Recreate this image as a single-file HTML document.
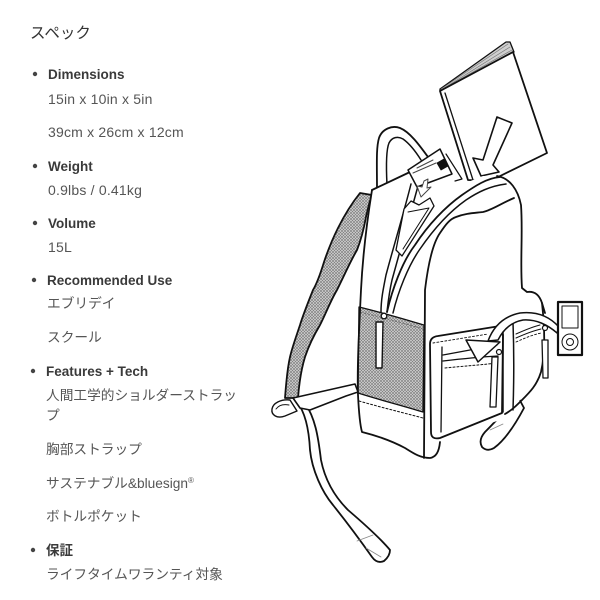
<!DOCTYPE html>
<html><head><meta charset="utf-8">
<style>
html,body{margin:0;padding:0;background:#fff;}
svg{display:block;}
.t{font-family:"Liberation Sans","Noto Sans CJK JP",sans-serif;}
</style></head><body>
<svg width="600" height="600" viewBox="0 0 600 600" xmlns="http://www.w3.org/2000/svg">
<defs>
<pattern id="h" width="3" height="3" patternUnits="userSpaceOnUse">
<rect width="3" height="3" fill="#dadada"/>
<path d="M0,0L3,3M3,0L0,3" stroke="#808080" stroke-width="0.7"/>
</pattern>
</defs>

<g class="t">
<text x="30" y="38" font-size="15.5" fill="#333">スペック</text>

<circle cx="35" cy="74" r="2.2" fill="#444"/>
<text x="48" y="79" font-size="13.5" font-weight="bold" fill="#3a3a3a">Dimensions</text>
<text x="48" y="104" font-size="14" fill="#555" letter-spacing="0.2">15in x 10in x 5in</text>
<text x="48" y="137" font-size="14" fill="#555" letter-spacing="0.2">39cm x 26cm x 12cm</text>

<circle cx="35" cy="166" r="2.2" fill="#444"/>
<text x="48" y="171" font-size="13.5" font-weight="bold" fill="#3a3a3a">Weight</text>
<text x="48" y="195" font-size="14" fill="#555" letter-spacing="0.2">0.9lbs / 0.41kg</text>

<circle cx="35" cy="223" r="2.2" fill="#444"/>
<text x="48" y="228" font-size="13.5" font-weight="bold" fill="#3a3a3a">Volume</text>
<text x="48" y="252" font-size="14" fill="#555" letter-spacing="0.2">15L</text>

<circle cx="34" cy="280" r="2.2" fill="#444"/>
<text x="47" y="285" font-size="13.5" font-weight="bold" fill="#3a3a3a">Recommended Use</text>
<text x="47" y="308" font-size="13.7" fill="#555">エブリデイ</text>
<text x="47" y="342" font-size="13.7" fill="#555">スクール</text>

<circle cx="33" cy="371" r="2.2" fill="#444"/>
<text x="46" y="376" font-size="13.5" font-weight="bold" fill="#3a3a3a">Features + Tech</text>
<text x="46" y="400" font-size="13.7" fill="#555">人間工学的ショルダーストラッ</text>
<text x="46" y="420" font-size="13.7" fill="#555">プ</text>
<text x="46" y="454" font-size="13.7" fill="#555">胸部ストラップ</text>
<text x="46" y="488" font-size="13.7" fill="#555">サステナブル&amp;bluesign<tspan font-size="8" dy="-5">®</tspan></text>
<text x="46" y="521" font-size="13.7" fill="#555">ボトルポケット</text>

<circle cx="33" cy="550" r="2.2" fill="#444"/>
<text x="46" y="555" font-size="13.5" font-weight="bold" fill="#3a3a3a">保証</text>
<text x="46" y="579" font-size="13.7" fill="#555">ライフタイムワランティ対象</text>
</g>

<g fill="none" stroke="#111" stroke-width="1.8" stroke-linejoin="round" stroke-linecap="round">

<!-- Book -->
<path d="M440,89 L506,42 L510,42 L514,52 L440,91 Z" fill="#cfcfcf" stroke-width="1.3"/>
<path d="M441,89 L508,44 M441,90 L510,47 M441,90 L512,50" stroke="#777" stroke-width="0.7"/>
<path d="M440,91 L513,52 L547,153 L490,181 L468,180 Z" fill="#fff"/>
<path d="M445,93 L473,180" stroke-width="1.3"/>
<path d="M497,117 L512,123 L493,165 L499,172 L481,176 L473,158 L483,160 Z" fill="#fff" stroke-width="1.6"/>

<!-- Handle -->
<path d="M377,190 C377,165 376,148 379,138 C382,129 392,125 400,128 C410,132 420,146 428,157" />
<path d="M387,185 C386,165 386,150 389,143 C392,137 398,136 403,139 C410,144 416,152 421,160" stroke-width="1.5"/>

<!-- Long hanging strap -->
<path d="M297,402 C305,412 309,430 310,450 C312,470 322,492 333,505 C345,520 360,540 372,557 Q377,564 384,561 Q390,556 390,550 C380,538 362,522 348,510 C335,497 325,480 321,460 C318,435 315,418 305,403 Z" fill="#fff"/>
<path d="M357,541 L373,535 M366,548 L381,557" stroke="#888" stroke-width="0.8"/>

<!-- Buckle loop -->
<path d="M290,400 C281,399 273,403 272,409 C271,415 277,419 285,416 L297,411 Z" fill="#fff" stroke-width="1.4"/>
<path d="M276,409 C279,405 284,404 289,405" stroke-width="1"/>

<!-- Hatched shoulder strap -->
<path d="M360,193 C352,203 345,214 338,228 C332,240 328,250 324,262 C320,275 316,285 313,290 C307,305 303,315 300,325 C295,340 292,348 290,357 C287,370 286,385 285,398 L298,398 C299,385 301,370 305,357 C309,345 314,335 320,325 C326,313 331,300 337,290 C344,276 350,262 357,250 C361,240 364,228 366,217 C368,208 370,200 372,195 Z" fill="url(#h)"/>

<!-- Lower right strap end -->
<path d="M516,393 C507,410 495,422 485,432 Q478,440 482,447 Q487,452 494,448 C505,440 515,425 524,408 Z" fill="#fff"/>
<path d="M490,430 L503,424" stroke="#888" stroke-width="0.8"/>

<!-- Body fill -->
<path d="M372,190 L410,172 L452,174 L468,182 L483,176 L497,176 C510,180 518,192 521,205 C523,230 520,260 522,288 L528,292 C535,292 540,296 542,303 L545,313 C546,340 545,360 540,375 L528,392 L508,412 L500,420 L440,440 L438,458 L425,459 L405,448 L392,440 L362,432 L357,390 L360,307 L363,243 L367,217 Z" fill="#fff" stroke="none"/>

<!-- Mesh -->
<path d="M359,307 C380,312 400,318 424,325 L423,412 C400,405 380,400 358,393 Z" fill="url(#h)" stroke-width="1.3"/>
<path d="M359,401 C380,407 400,412 423,418" stroke-width="1" stroke-dasharray="2 2"/>
<path d="M360,312 C380,317 400,322 423,329" stroke="#666" stroke-width="0.8" stroke-dasharray="2 2"/>

<!-- Body outlines -->
<path d="M372,190 C368,215 363,250 361,290 C359,330 357,370 358,395 C359,415 360,425 362,432 C378,436 392,441 405,448 C413,453 420,458 430,458 C436,457 439,452 440,442"/>
<path d="M372,190 L410,172"/>
<path d="M411,184 C404,212 394,245 386,275 C383,290 381,300 381,312" stroke-width="1.5"/>
<path d="M418,186 C410,216 400,250 392,280 C389,293 388,303 387,312" stroke-width="1.5"/>
<path d="M387,312 C392,290 402,262 415,245 C428,225 445,207 462,195 C475,186 487,178 500,177"/>
<path d="M393,313 C398,292 408,266 420,249 C433,230 449,212 466,200 C478,192 490,186 506,184" stroke-width="1.5"/>
<path d="M497,176 C510,178 518,190 521,205 C523,232 520,262 522,288 L527,292 C534,291 539,294 542,303 L545,313"/>
<path d="M424,458 L425,290 C428,265 433,243 440,233 C446,224 450,219 456,217 C466,213 475,213 483,212 C492,210 500,204 514,198"/>

<!-- Inner pocket V -->
<path d="M404,209 L411,201 L419,205 L430,198 L434,206 L402,256 L396,250 Z" fill="#fff" stroke-width="1.3"/>
<path d="M408,212 L429,208 L403,249" stroke-width="1"/>

<!-- Card -->
<path d="M446,154 L462,179 L455,181" stroke-width="1.2"/>
<path d="M408,170 L440,149 L452,174 L417,187 Z" fill="#fff" stroke-width="1.5"/>
<path d="M437,163 L444,159 L448,166 L441,170 Z" fill="#111" stroke-width="0.8"/>
<path d="M417,168 L433,160 M413,173 L436,163" stroke="#444" stroke-width="1"/>
<path d="M424,181 L428,179 L427,188 L431,187 L421,197 L417,186 L422,187 Z" fill="#fff" stroke="#444" stroke-width="1"/>

<!-- Front zipper pull -->
<circle cx="384" cy="316" r="2.8" fill="#fff" stroke-width="1.3"/>
<path d="M376,322 L383,322 L382,368 L376,368 Z" fill="#fff" stroke-width="1.4"/>

<!-- Band strap to bag -->
<path d="M293,398 L355,384 L358,392 L346,396 L310,410 L300,408 Z" fill="#fff" stroke-width="1.6"/>

<!-- Side pocket -->
<path d="M438,336 L500,326 L503,335 L502,413 L440,438 Q431,440 431,432 L430,344 Q430,337 438,336 Z" fill="#fff"/>
<path d="M442,347 L441,432" stroke-width="1.3"/>
<path d="M443,355 C460,352 480,348 497,345" stroke-width="1.3"/>
<path d="M443,361 C460,359 480,357 498,356" stroke-width="1.3"/>
<path d="M445,368 C465,366 480,365 497,363" stroke-width="1" stroke-dasharray="2 2"/>
<path d="M433,343 C445,341 470,337 488,334" stroke-width="0.9" stroke-dasharray="2 2"/>
<circle cx="499" cy="352" r="2.5" fill="#fff" stroke-width="1.2"/>
<path d="M492,357 L498,357 L496,407 L490,407 Z" fill="#fff" stroke-width="1.3"/>

<!-- Right side -->
<path d="M503,328 L503,412" stroke-width="1.5"/>
<path d="M513,322 C514,350 514,380 513,410" stroke-width="1.5"/>
<path d="M542,303 C545,330 545,355 541,372 C537,385 530,392 522,400 C516,406 512,410 505,414"/>
<path d="M516,334 C525,330 532,327 540,325 M516,338 C525,334 532,331 541,329" stroke-width="1"/>
<path d="M516,342 C525,338 532,335 541,333" stroke-width="0.9" stroke-dasharray="2 2"/>
<circle cx="545" cy="328" r="2.5" fill="#fff" stroke-width="1.2"/>
<path d="M542,340 L548,340 L548,378 L543,378 Z" fill="#fff" stroke-width="1.3"/>

<!-- Cable band + arrow -->
<path d="M488,341 C494,325 505,316 520,313 C537,311 550,317 559,327 L557,333 C548,325 536,319 523,320 C512,322 504,328 498,340 Z" fill="#fff" stroke-width="1.5"/>
<path d="M466,340 L500,342 L478,362 Z" fill="#fff" stroke-width="1.5"/>

<!-- iPod -->
<rect x="558" y="302" width="24" height="53" fill="#fff" stroke-width="2.2"/>
<rect x="562" y="306" width="16" height="22" stroke-width="1"/>
<circle cx="570" cy="342" r="8" stroke-width="1"/>
<circle cx="570" cy="342" r="3.5" stroke-width="1"/>
</g>
</svg>
</body></html>
